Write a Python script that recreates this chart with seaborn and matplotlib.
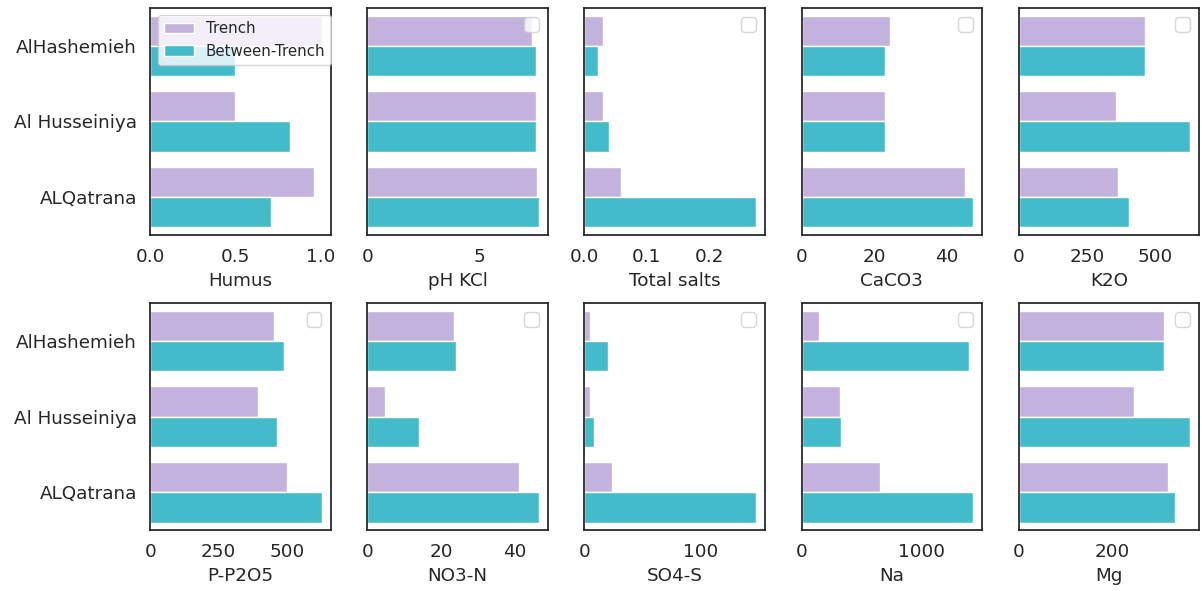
import pandas as pd
import matplotlib.pyplot as plt
import seaborn as sns

# Sites and groups
sites = ["AlHashemieh", "Al Husseiniya", "ALQatrana"]
groups = ["Trench", "Between-Trench"]

# Soil properties (values per site)
humus_trench = [1.01, 0.50, 0.965]
humus_between = [0.50, 0.82, 0.71]
ph_trench = [7.35, 7.5, 7.55]
ph_between = [7.5, 7.5, 7.65]
salts_trench = [0.029, 0.029, 0.059]
salts_between = [0.021, 0.040, 0.275]
caco3_trench = [24.5, 23.1, 45.2]
caco3_between = [23.1, 23.1, 47.4]
k2o_trench = [461, 354, 363]
k2o_between = [461, 627, 403]
p2o5_trench = [453, 394, 500]
p2o5_between = [489, 464, 628]
no3_trench = [23.6, 4.7, 41.1]
no3_between = [24.1, 14.0, 46.6]
so4_trench = [5.2, 5.0, 24.0]
so4_between = [20.7, 7.8, 148]
na_trench = [149, 323, 655]
na_between = [1403, 333, 1435]
mg_trench = [312, 248, 321]
mg_between = [312, 368, 336]

properties = ["Humus", "pH KCl", "Total salts", "CaCO3", "K2O",
              "P-P2O5", "NO3-N", "SO4-S", "Na", "Mg"]
values = [
    (humus_trench, humus_between),
    (ph_trench, ph_between),
    (salts_trench, salts_between),
    (caco3_trench, caco3_between),
    (k2o_trench, k2o_between),
    (p2o5_trench, p2o5_between),
    (no3_trench, no3_between),
    (so4_trench, so4_between),
    (na_trench, na_between),
    (mg_trench, mg_between),
]

# Long table
rows = []
for prop, (tr, bt) in zip(properties, values):
    for i, site in enumerate(sites):
        rows.append({"Property": prop, "Site": site, "Group": "Trench", "Value": tr[i]})
        rows.append({"Property": prop, "Site": site, "Group": "Between-Trench", "Value": bt[i]})
df = pd.DataFrame(rows)

sns.set_theme(style="white", context="notebook")
plt.rcParams["xtick.labelsize"] = 13.2
plt.rcParams["ytick.labelsize"] = 13.2
plt.rcParams["axes.labelsize"] = 13.2
plt.rcParams["legend.fontsize"] = 10.8

palette = {"Trench": "#c3b2dd", "Between-Trench": "#44bbca"}

fig, axes = plt.subplots(2, 5, figsize=(12.02, 5.91), dpi=100, sharey=True)
fig.subplots_adjust(left=0.125, right=0.9975, top=0.9865, bottom=0.103,
                    wspace=0.204, hspace=0.30)

for ax, prop in zip(axes.flat, properties):
    sub = df[df["Property"] == prop]
    sns.barplot(
        data=sub,
        x="Value",
        y="Site",
        hue="Group",
        hue_order=groups,
        order=sites,
        palette=palette,
        saturation=1,
        ax=ax
    )
    ax.set_xlabel(prop)
    ax.set_ylabel("")
    for s in ax.spines.values():
        s.set_color("#222222")
    if prop == "Humus":
        ax.legend(loc="upper left", framealpha=0.8)
    else:
        # empty legend box, as in the original
        ax.legend(handles=[], loc="upper right", fontsize=13.2)

plt.savefig("out.png", dpi=100)
